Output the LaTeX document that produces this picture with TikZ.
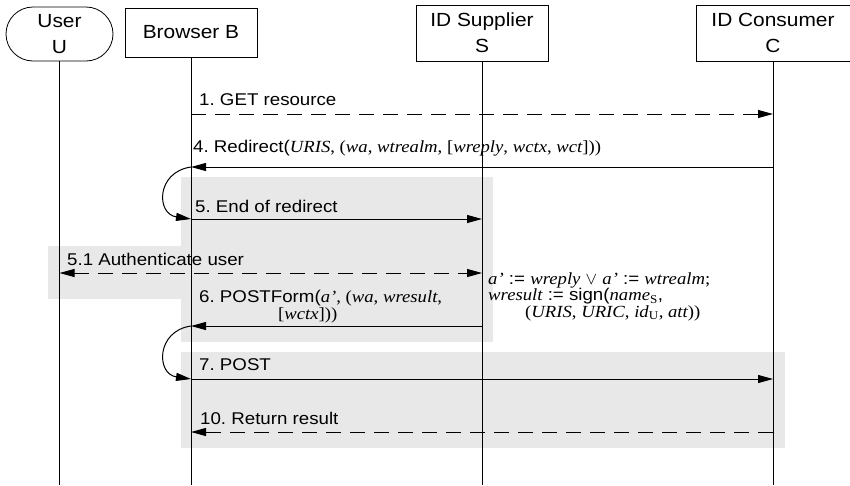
\documentclass[tikz,border=0pt]{standalone}
\usepackage{fontspec}
\setmainfont{Liberation Sans}[FakeStretch=1.1]
\newfontfamily\tms{Liberation Serif}[FakeStretch=1.1]
\usetikzlibrary{positioning,arrows.meta,shapes.misc}

\newcommand\vit[1]{{\tms\itshape #1}}
\newcommand\tup[1]{{\tms #1}}

\tikzset{
  actor/.style={draw, line width=0.8pt, align=center, inner sep=0pt,
    font=\fontsize{19}{26}\selectfont},
  life/.style={line width=0.8pt},
  msg/.style={line width=1pt, -{Triangle[length=15pt,width=8pt]}},
  ret/.style={msg, dash pattern=on 15pt off 9pt},
  both/.style={ret, {Triangle[length=15pt,width=8pt]}-{Triangle[length=15pt,width=8pt]}},
  band/.style={fill=black!9},
  lbl/.style={anchor=base west, inner sep=0pt, align=left,
    font=\fontsize{17}{17}\selectfont\frenchspacing},
}

\begin{document}
\begin{tikzpicture}[x=1pt,y=-1pt]
  \useasboundingbox (0,0) rectangle (850,485);

  \fill[band] (181,177) rectangle (493,342);
  \fill[band] (48,246) rectangle (493,299);
  \fill[band] (181,352) rectangle (785,448);

  \node[actor, rounded rectangle, minimum width=107pt, minimum height=54pt] (user) at (59.5,34) {User\\U};
  \node[actor, minimum width=132pt, minimum height=49pt] (browser) at (191,32.5) {Browser B};
  \node[actor, minimum width=132pt, minimum height=56pt] (supplier) at (482,33) {ID Supplier\\S};
  \node[actor, minimum width=154pt, minimum height=56pt] (consumer) at (773,33) {ID Consumer\\C};

  \coordinate (bottom) at (0,485);
  \foreach \who in {user,browser,supplier,consumer}
    \draw[life] (\who) -- (\who |- bottom);

  \coordinate (m1) at (0,114);
  \coordinate (m4) at (0,167);
  \coordinate (m5) at (0,219);
  \coordinate (m51) at (0,273);
  \coordinate (m6) at (0,326);
  \coordinate (m7) at (0,379);
  \coordinate (m10) at (0,432);

  \draw[ret] (browser |- m1) -- (consumer |- m1);
  \node[lbl] (l1) at (199,105) {1. GET resource};

  \draw[msg] (consumer |- m4) -- (browser |- m4);
  \node[lbl] (l4) at (193,152) {4. Redirect(\vit{URIS}\tup{, (}\vit{wa}\tup{, }\vit{wtrealm}\tup{, [}\vit{wreply}\tup{, }\vit{wctx}\tup{, }\vit{wct}\tup{]))}};

  \draw[msg] (browser |- m4) .. controls +(-35,5) and +(-35,-5) .. (browser |- m5);

  \draw[msg] (browser |- m5) -- (supplier |- m5);
  \node[lbl] (l5) at (195,212) {5. End of redirect};

  \draw[both] (user |- m51) -- (supplier |- m51);
  \node[lbl] (l51) at (67,265) {5.1 Authenticate user};

  \draw[msg] (supplier |- m6) -- (browser |- m6);
  \node[lbl, font=\fontsize{17}{14}\selectfont\frenchspacing] (l6) at (199,319)
    {6. POSTForm(\vit{a’}\tup{, (}\vit{wa}\tup{, }\vit{wresult}\tup{,}\\
     \hspace*{79pt}\tup{[}\vit{wctx}\tup{]))}};

  \node[lbl, font=\fontsize{17}{16.5}\selectfont\frenchspacing] (calc) at (488,317)
    {\vit{a’} := \vit{wreply} $\vee$ \vit{a’} := \vit{wtrealm}\tup{;}\\
     \vit{wresult} := sign(\vit{name}\textsubscript{\tup{S}},\\
     \hspace*{37pt}\tup{(}\vit{URIS}\tup{, }\vit{URIC}\tup{, }\vit{id}\textsubscript{\tup{U}}\tup{, }\vit{att}\tup{))}};

  \draw[msg] (browser |- m6) .. controls +(-35,5) and +(-35,-5) .. (browser |- m7);

  \draw[msg] (browser |- m7) -- (consumer |- m7);
  \node[lbl] (l7) at (199,370) {7. POST};

  \draw[ret] (consumer |- m10) -- (browser |- m10);
  \node[lbl] (l10) at (200,424) {10. Return result};
\end{tikzpicture}
\end{document}
